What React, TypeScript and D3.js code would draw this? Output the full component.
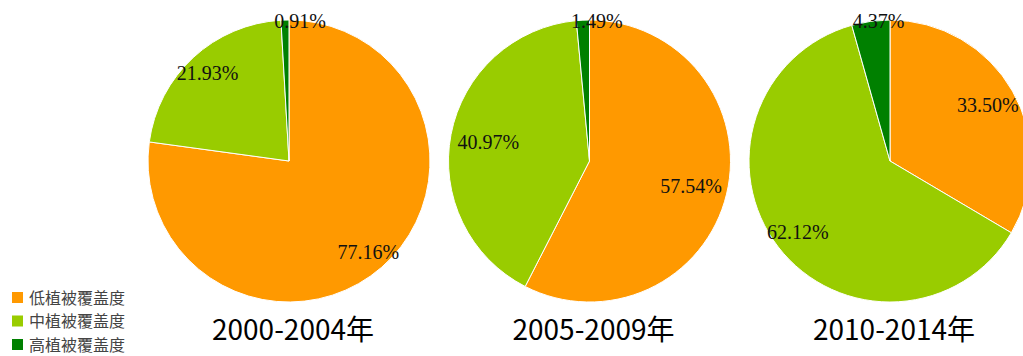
import React from "react";
import * as d3 from "d3";

const periods = ["2000-2004年", "2005-2009年", "2010-2014年"];
const categories = ["低植被覆盖度", "中植被覆盖度", "高植被覆盖度"];
const lowCover = [77.16, 57.54, 33.5];
const midCover = [21.93, 40.97, 62.12];
const highCover = [0.91, 1.49, 4.37];
const colors = ["#FF9900", "#99CC00", "#008000"];

const W = 1023;
const H = 356;
const R = 141;
const CY = 161;

export default function App() {
  const x = d3.scalePoint<string>().domain(periods).range([289, 890]);
  const color = d3.scaleOrdinal<string, string>().domain(categories).range(colors);
  const pie = d3
    .pie<{ cat: string; v: number }>()
    .sort(null)
    .value((d) => d.v)
    .startAngle(0)
    .endAngle(2 * Math.PI);
  const arc = d3.arc<d3.PieArcDatum<{ cat: string; v: number }>>().innerRadius(0).outerRadius(R);

  return (
    <svg
      width={W}
      height={H}
      style={{ position: "absolute", left: 0, top: 0 }}
      xmlns="http://www.w3.org/2000/svg"
    >
      {periods.map((p, i) => {
        const cx = x(p) as number;
        const data = categories.map((c, k) => ({
          cat: c,
          v: [lowCover, midCover, highCover][k][i],
        }));
        const arcs = pie(data);
        return (
          <g key={p}>
            <g transform={`translate(${cx},${CY})`}>
              {arcs.map((a) => (
                <path
                  key={a.data.cat}
                  d={arc(a) as string}
                  fill={color(a.data.cat)}
                  stroke="#fff"
                  strokeWidth={1}
                />
              ))}
              {arcs.map((a) => {
                const th = (a.startAngle + a.endAngle) / 2;
                const s = Math.sin(th);
                const c = Math.cos(th);
                let lx: number, ly: number;
                if (a.data.v < 5) {
                  lx = R * 1.47 * s + 17;
                  ly = -R + 1;
                } else {
                  const lr = R * (0.69 + 0.22 * Math.abs(c));
                  lx = lr * s;
                  ly = -lr * c;
                }
                return (
                  <text
                    key={"l" + a.data.cat}
                    x={lx}
                    y={ly}
                    textAnchor="middle"
                    dominantBaseline="central"
                    fontFamily="'Liberation Serif', serif"
                    fontSize={20}
                    fill="#111"
                  >
                    {a.data.v.toFixed(2) + "%"}
                  </text>
                );
              })}
            </g>
            <text
              x={cx + 4}
              y={340}
              textAnchor="middle"
              fontFamily="'Noto Sans CJK SC', 'Noto Sans', sans-serif"
              fontSize={28}
              fill="#000"
            >
              {p}
            </text>
          </g>
        );
      })}
      <g>
        {categories.map((c, k) => (
          <g key={c} transform={`translate(0,${292 + k * 23.5})`}>
            <rect x={12} y={0} width={11} height={11} fill={color(c)} />
            <text
              x={29}
              y={11.5}
              fontFamily="'Noto Sans CJK SC', sans-serif"
              fontSize={16}
              fill="#444"
            >
              {c}
            </text>
          </g>
        ))}
      </g>
    </svg>
  );
}
